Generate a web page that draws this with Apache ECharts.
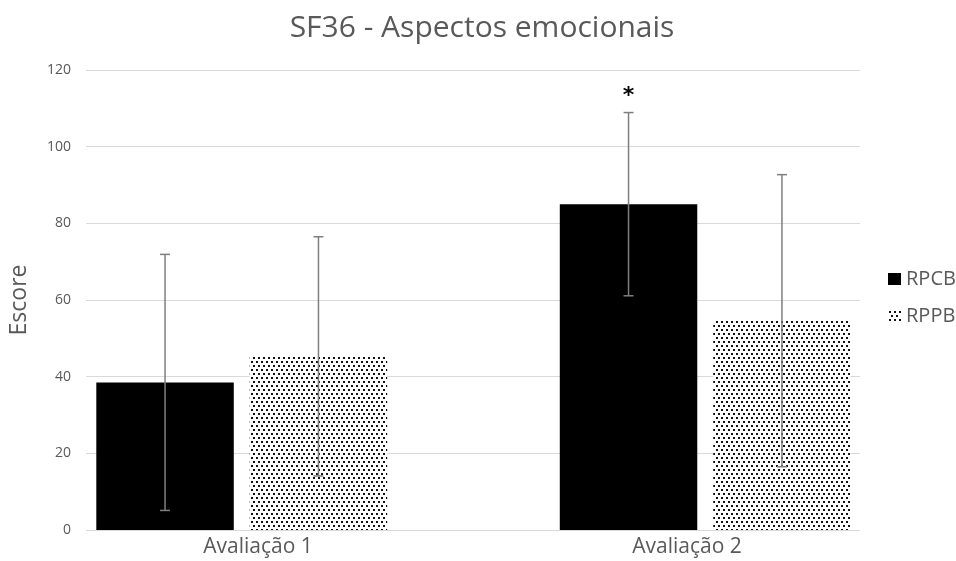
<!DOCTYPE html>
<html>
<head>
<meta charset="utf-8">
<script src="https://cdn.jsdelivr.net/npm/echarts@6/dist/echarts.min.js"></script>
<style>html,body{margin:0;padding:0;background:#fff}#c{width:956px;height:561px}</style>
</head>
<body>
<div id="c"></div>
<script>
const categories = ['Avaliação 1', 'Avaliação 2'];
const seriesNames = ['RPCB', 'RPPB'];
const rpcb = [38.5, 85.0];
const rpcbErr = [33.4, 23.9];
const rppb = [45.3, 54.6];
const rppbErr = [31.2, 38.1];
const significance = ['', '*'];
const yTicks = [0, 20, 40, 60, 80, 100, 120];

const pc = document.createElement('canvas');
pc.width = 10; pc.height = 8;
const g = pc.getContext('2d');
g.fillStyle = '#fff'; g.fillRect(0, 0, 10, 8);
g.fillStyle = '#111';
[[1,1],[6,1],[3,5],[8,5]].forEach(p => g.fillRect(p[0], p[1], 2, 2));
const pattern = { image: pc, repeat: 'repeat' };

const BAR_RATIO = 0.2966, GAP_RATIO = 0.116;
const allVals = [rpcb, rppb];
const allErr = [rpcbErr, rppbErr];
const errData = [];
for (let s = 0; s < 2; s++) for (let i = 0; i < categories.length; i++)
  errData.push([i, allVals[s][i], allErr[s][i], s, s === 0 ? significance[i] : '']);

const chart = echarts.init(document.getElementById('c'));
const TXT = '#595959';
chart.setOption({
  animation: false,
  title: { text: 'SF36 - Aspectos emocionais', left: 477, top: 8, textAlign: 'center',
    textStyle: { fontFamily: 'Open Sans', fontSize: 30, fontWeight: 'normal', color: TXT } },
  legend: { orient: 'vertical', left: 883, top: 264, itemWidth: 13, itemHeight: 12, itemGap: 17,
    icon: 'rect', data: seriesNames, textStyle: { fontFamily: 'Open Sans', fontSize: 20, color: TXT } },
  grid: [
    { left: 86, right: 96, top: 70, bottom: 31 },
    { left: 10, right: 19, top: 70, bottom: 31 },
    { left: 43.5, right: 54.5, top: 70, bottom: 31 }
  ],
  xAxis: [
    { gridIndex: 0, type: 'category', data: categories, axisLine: { show: false }, axisTick: { show: false }, axisLabel: { show: false } },
    { gridIndex: 1, type: 'category', data: categories, axisLine: { show: false }, axisTick: { show: false }, axisLabel: { show: false } },
    { gridIndex: 2, type: 'category', data: categories, axisLine: { show: false }, axisTick: { show: false },
      axisLabel: { margin: 7, fontFamily: 'Open Sans', fontSize: 21, color: TXT } }
  ],
  yAxis: [
    { gridIndex: 0, type: 'value', min: yTicks[0], max: yTicks[yTicks.length - 1], interval: 20,
      name: 'Escore', nameLocation: 'middle', nameGap: 55,
      nameTextStyle: { fontFamily: 'Open Sans', fontSize: 23, color: TXT },
      axisLine: { show: false }, axisTick: { show: false },
      axisLabel: { margin: 15, fontFamily: 'Open Sans', fontSize: 14, color: TXT },
      splitLine: { lineStyle: { color: '#d9d9d9', width: 1 } } },
    { gridIndex: 1, type: 'value', min: 0, max: 120, show: false },
    { gridIndex: 2, type: 'value', min: 0, max: 120, show: false }
  ],
  series: [
    { name: seriesNames[0], type: 'bar', xAxisIndex: 1, yAxisIndex: 1, data: rpcb,
      barWidth: (BAR_RATIO * 100) + '%', barGap: (GAP_RATIO * 100) + '%',
      itemStyle: { color: '#000' } },
    { name: seriesNames[1], type: 'bar', xAxisIndex: 1, yAxisIndex: 1, data: rppb,
      barWidth: (BAR_RATIO * 100) + '%', barGap: (GAP_RATIO * 100) + '%',
      itemStyle: { color: pattern } },
    { type: 'custom', xAxisIndex: 1, yAxisIndex: 1, data: errData, z: 10,
      renderItem: function (params, api) {
        const i = api.value(0), v = api.value(1), e = api.value(2), s = api.value(3);
        const band = api.size([1, 0])[0];
        const bw = band * BAR_RATIO;
        const off = (bw + bw * GAP_RATIO) / 2 * (s === 0 ? -1 : 1);
        const top = api.coord([i, v + e]);
        const bot = api.coord([i, Math.max(v - e, 0)]);
        const x = top[0] + off;
        const st = { stroke: '#7f7f7f', lineWidth: 1.5 };
        const ch = [
          { type: 'line', shape: { x1: x, y1: top[1], x2: x, y2: bot[1] }, style: st },
          { type: 'line', shape: { x1: x - 5, y1: top[1], x2: x + 5, y2: top[1] }, style: st },
          { type: 'line', shape: { x1: x - 5, y1: bot[1], x2: x + 5, y2: bot[1] }, style: st }
        ];
        const sig = errData[params.dataIndex][4];
        if (sig) ch.push({ type: 'text', style: { text: sig, x: x, y: top[1] - 16, align: 'center', verticalAlign: 'middle',
          fontFamily: 'DejaVu Sans', fontSize: 22, fontWeight: 'bold', fill: '#000' } });
        return { type: 'group', children: ch };
      } }
  ]
});
</script>
</body>
</html>
